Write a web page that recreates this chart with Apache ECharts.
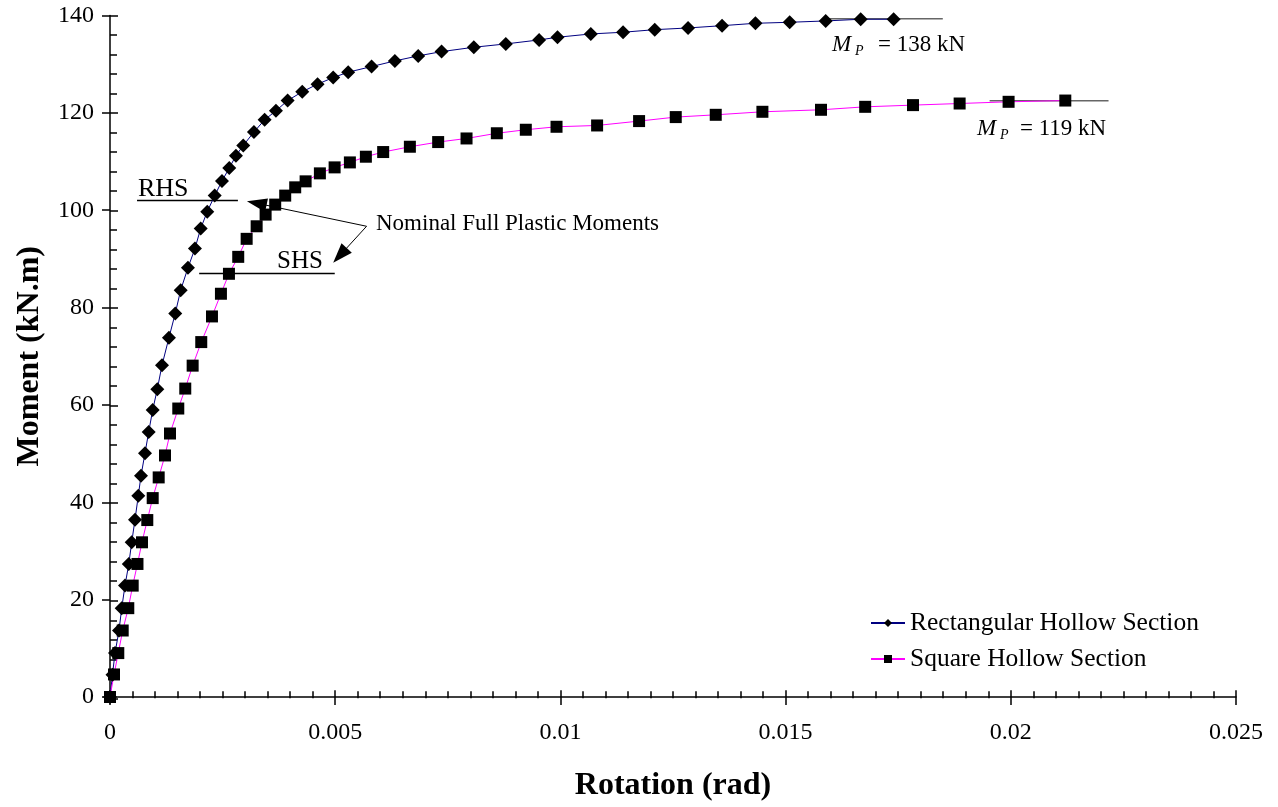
<!DOCTYPE html>
<html>
<head>
<meta charset="utf-8">
<script src="https://cdn.jsdelivr.net/npm/echarts@6/dist/echarts.min.js"></script>
<style>
html, body { margin: 0; padding: 0; background: #fff; }
#chart { width: 1278px; height: 807px; }
</style>
</head>
<body>
<div id="chart"></div>
<script>
// tick values
const rotationTicks = [0, 0.005, 0.01, 0.015, 0.02, 0.025];
const momentTicks = [0, 20, 40, 60, 80, 100, 120, 140];

// Rectangular Hollow Section (rad, kN.m)
const rhsRotation = [0, 0.000055, 0.000111, 0.0002, 0.00026, 0.000333, 0.000417, 0.000482, 0.000555, 0.000628,
  0.000688, 0.000777, 0.000859, 0.000948, 0.00105, 0.001154, 0.001309, 0.001449, 0.001569, 0.001731,
  0.001886, 0.002013, 0.002159, 0.002324, 0.002486, 0.002648, 0.002796, 0.002958, 0.003196, 0.003433,
  0.003684, 0.003944, 0.004268, 0.004609, 0.004956, 0.005289, 0.005808, 0.006325, 0.006842, 0.007361,
  0.008078, 0.008788, 0.009527, 0.009936, 0.010675, 0.011391, 0.012095, 0.012834, 0.013589, 0.01433,
  0.015091, 0.01589, 0.016667, 0.017399];
const rhsMoment = [0, 4.57, 9.02, 13.66, 18.25, 22.88, 27.33, 31.78, 36.42, 41.34,
  45.44, 50.09, 54.46, 58.97, 63.22, 68.14, 73.82, 78.8, 83.58, 88.17,
  92.13, 96.23, 99.71, 103.0, 106.0, 108.67, 111.2, 113.3, 116.06, 118.58,
  120.42, 122.53, 124.32, 125.9, 127.25, 128.36, 129.51, 130.67, 131.7, 132.58,
  133.48, 134.16, 134.98, 135.53, 136.21, 136.56, 137.09, 137.44, 137.91, 138.4,
  138.61, 138.88, 139.23, 139.23];

// Square Hollow Section (rad, kN.m)
const shsRotation = [0, 0.000089, 0.000184, 0.000282, 0.000406, 0.000504, 0.00061, 0.00071, 0.000828, 0.000948,
  0.001081, 0.001221, 0.001332, 0.001516, 0.001671, 0.001835, 0.002026, 0.002264, 0.002463, 0.002641,
  0.002847, 0.003034, 0.003256, 0.003455, 0.003668, 0.00389, 0.004112, 0.004343, 0.00466, 0.004987,
  0.005326, 0.005681, 0.006065, 0.006658, 0.007286, 0.007916, 0.008589, 0.009232, 0.009914, 0.010815,
  0.011747, 0.012561, 0.013449, 0.014485, 0.015786, 0.016767, 0.017828, 0.018864, 0.019951, 0.02121];
const shsMoment = [0, 4.63, 9.02, 13.66, 18.25, 22.88, 27.33, 31.78, 36.35, 40.86,
  45.11, 49.62, 54.13, 59.26, 63.36, 68.07, 72.91, 78.18, 82.84, 86.94,
  90.42, 94.12, 96.7, 99.1, 101.15, 103.0, 104.7, 105.93, 107.57, 108.8,
  109.82, 110.99, 111.95, 113.04, 114.0, 114.74, 115.81, 116.53, 117.14, 117.41,
  118.31, 119.13, 119.6, 120.22, 120.63, 121.24, 121.59, 121.92, 122.27, 122.53];

// annotation lines (rad, kN.m)
const rhsPlasticLine = [[0.01585, 139.35], [0.01849, 139.35]];
const shsPlasticLine = [[0.01953, 122.47], [0.02217, 122.47]];
const rhsLabelLine = [[0.0006, 102.0], [0.00284, 102.0]];
const shsLabelLine = [[0.00198, 87.0], [0.00499, 87.0]];
const arrowStart = [0.005697, 96.7];
const arrowEnds = [[0.003258, 101.44], [0.005105, 90.71]];

const serif = '"Liberation Serif", "Times New Roman", serif';

function zip(xs, ys) {
  return xs.map((x, i) => [x, ys[i]]);
}

const grid = { left: 110, top: 15.5, width: 1126, height: 682.8 };

const chart = echarts.init(document.getElementById('chart'));

const option = {
  animation: false,
  backgroundColor: '#fff',
  grid: [
    Object.assign({}, grid),
    Object.assign({}, grid)
  ],
  legend: {
    left: 865,
    top: 605,
    orient: 'vertical',
    itemWidth: 34,
    itemHeight: 10,
    itemGap: 10,
    data: ['Rectangular Hollow Section', 'Square Hollow Section'],
    textStyle: { fontFamily: serif, fontSize: 25.5, color: '#000', lineHeight: 26 }
  },
  xAxis: [
    {
      // main axis: labels + outer half of major ticks
      type: 'value', gridIndex: 0,
      min: rotationTicks[0], max: rotationTicks[rotationTicks.length - 1],
      interval: rotationTicks[1] - rotationTicks[0],
      name: 'Rotation (rad)', nameLocation: 'middle', nameGap: 73,
      nameTextStyle: { fontFamily: serif, fontSize: 32, fontWeight: 'bold', color: '#000' },
      axisLine: { lineStyle: { color: '#000', width: 1.5 } },
      axisTick: { length: 8, lineStyle: { color: '#000', width: 1.5 } },
      axisLabel: { fontFamily: serif, fontSize: 24, color: '#000', margin: 24 },
      splitLine: { show: false }
    },
    {
      // tick layer: inner half of major ticks + minor ticks
      type: 'value', gridIndex: 1,
      min: rotationTicks[0], max: rotationTicks[rotationTicks.length - 1],
      interval: rotationTicks[1] - rotationTicks[0],
      axisLine: { show: false },
      axisTick: { inside: true, length: 8, lineStyle: { color: '#000', width: 1.5 } },
      minorTick: { show: true, splitNumber: 10, length: 7, lineStyle: { color: '#000', width: 1.5 } },
      axisLabel: { show: false },
      splitLine: { show: false }
    }
  ],
  yAxis: [
    {
      type: 'value', gridIndex: 0,
      min: momentTicks[0], max: momentTicks[momentTicks.length - 1],
      interval: momentTicks[1] - momentTicks[0],
      name: 'Moment (kN.m)', nameLocation: 'middle', nameGap: 64, nameRotate: 90,
      nameTextStyle: { fontFamily: serif, fontSize: 32, fontWeight: 'bold', color: '#000' },
      axisLine: { lineStyle: { color: '#000', width: 1.5 } },
      axisTick: { length: 8, lineStyle: { color: '#000', width: 1.5 } },
      axisLabel: { fontFamily: serif, fontSize: 24, color: '#000', margin: 16 },
      splitLine: { show: false }
    },
    {
      type: 'value', gridIndex: 1,
      min: momentTicks[0], max: momentTicks[momentTicks.length - 1],
      interval: momentTicks[1] - momentTicks[0],
      axisLine: { show: false },
      axisTick: { inside: true, length: 8, lineStyle: { color: '#000', width: 1.5 } },
      minorTick: { show: true, splitNumber: 5, length: 7, lineStyle: { color: '#000', width: 1.5 } },
      axisLabel: { show: false },
      splitLine: { show: false }
    }
  ],
  series: [
    {
      name: 'Rectangular Hollow Section',
      type: 'line', xAxisIndex: 0, yAxisIndex: 0,
      data: zip(rhsRotation, rhsMoment),
      symbol: 'diamond', symbolSize: 14,
      itemStyle: { color: '#000' },
      lineStyle: { color: '#000080', width: 1 },
      z: 4
    },
    {
      name: 'Square Hollow Section',
      type: 'line', xAxisIndex: 0, yAxisIndex: 0,
      data: zip(shsRotation, shsMoment),
      symbol: 'rect', symbolSize: 12,
      itemStyle: { color: '#000' },
      lineStyle: { color: '#ff00ff', width: 1 },
      z: 4
    },
    {
      name: 'rhsMp', type: 'line', data: rhsPlasticLine, symbol: 'none', silent: true,
      lineStyle: { color: '#666', width: 1.5 }, z: 3
    },
    {
      name: 'shsMp', type: 'line', data: shsPlasticLine, symbol: 'none', silent: true,
      lineStyle: { color: '#666', width: 1.5 }, z: 3
    },
    {
      name: 'rhsLabel', type: 'line', data: rhsLabelLine, symbol: 'none', silent: true,
      lineStyle: { color: '#000', width: 1.5 }, z: 3
    },
    {
      name: 'shsLabel', type: 'line', data: shsLabelLine, symbol: 'none', silent: true,
      lineStyle: { color: '#000', width: 1.5 }, z: 3
    },
    {
      name: 'arrows', type: 'line', data: [], silent: true,
      markLine: {
        silent: true,
        symbol: ['none', 'triangle'],
        symbolSize: [14, 20],
        label: { show: false },
        lineStyle: { color: '#000', width: 1, type: 'solid' },
        itemStyle: { color: '#000' },
        emphasis: { disabled: true },
        data: arrowEnds.map(end => [{ coord: arrowStart }, { coord: end }])
      },
      z: 5
    }
  ],
  graphic: [
    { type: 'text', x: 138, y: 189, style: { text: 'RHS', font: '26px ' + serif, fill: '#000', align: 'left', verticalAlign: 'middle' } },
    { type: 'text', x: 277, y: 261, style: { text: 'SHS', font: '25px ' + serif, fill: '#000', align: 'left', verticalAlign: 'middle' } },
    { type: 'text', x: 376, y: 223.5, style: { text: 'Nominal Full Plastic Moments', font: '23px ' + serif, fill: '#000', align: 'left', verticalAlign: 'middle' } },
    { type: 'text', x: 832, y: 45, style: { text: 'M', font: 'italic 23px ' + serif, fill: '#000', align: 'left', verticalAlign: 'middle' } },
    { type: 'text', x: 855, y: 51.5, style: { text: 'P', font: 'italic 14px ' + serif, fill: '#000', align: 'left', verticalAlign: 'middle' } },
    { type: 'text', x: 878, y: 45, style: { text: '= 138 kN', font: '23px ' + serif, fill: '#000', align: 'left', verticalAlign: 'middle' } },
    { type: 'text', x: 977, y: 128.5, style: { text: 'M', font: 'italic 23px ' + serif, fill: '#000', align: 'left', verticalAlign: 'middle' } },
    { type: 'text', x: 1000, y: 135, style: { text: 'P', font: 'italic 14px ' + serif, fill: '#000', align: 'left', verticalAlign: 'middle' } },
    { type: 'text', x: 1020, y: 128.5, style: { text: '= 119 kN', font: '23px ' + serif, fill: '#000', align: 'left', verticalAlign: 'middle' } }
  ]
};

chart.setOption(option);
</script>
</body>
</html>
